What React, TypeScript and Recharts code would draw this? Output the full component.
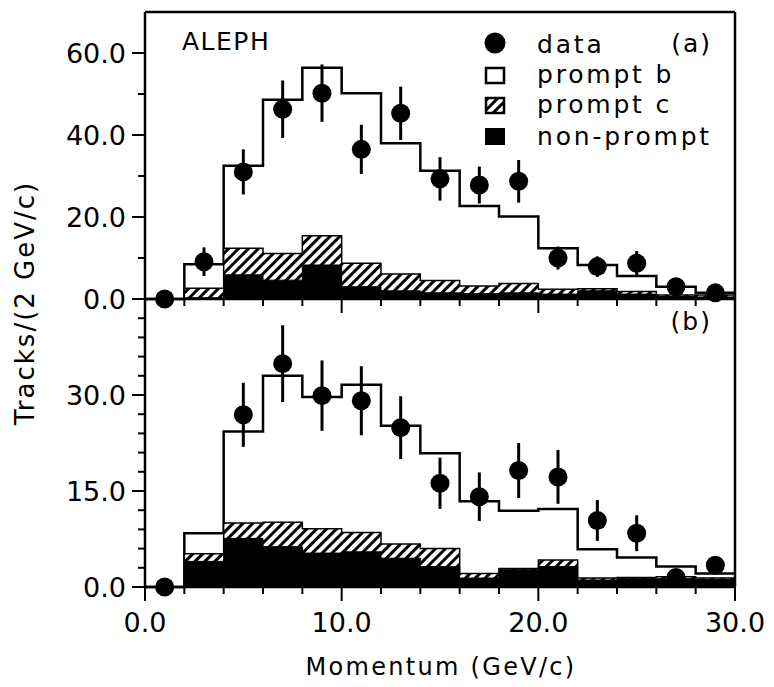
import { ComposedChart, Area, Scatter, ErrorBar, XAxis, YAxis, ReferenceLine } from "recharts";

const FONT = "'DejaVu Sans', sans-serif";

// momentum bins (GeV/c), 2 GeV wide
const binEdges = [0, 2, 4, 6, 8, 10, 12, 14, 16, 18, 20, 22, 24, 26, 28, 30];

// panel (a): simulated components per bin
const nonPromptA = [0, 0.3, 5.9, 4.6, 8.3, 3.0, 2.0, 1.5, 1.3, 1.5, 1.2, 2.0, 1.2, 0.6, 0.5];
const promptCA = [0, 2.3, 6.5, 6.5, 7.1, 5.7, 4.1, 3.0, 1.9, 2.3, 1.2, 0.5, 0.6, 0.4, 0.5];
const promptBA = [0, 5.9, 20.1, 37.5, 41.0, 41.5, 31.9, 26.8, 19.5, 16.3, 10.0, 5.8, 3.8, 2.0, 0.5];

// panel (a): measured tracks
const dataXA = [1, 3, 5, 7, 9, 11, 13, 15, 17, 19, 21, 23, 25, 27, 29];
const dataYA = [0, 9.1, 31.0, 46.3, 50.2, 36.5, 45.3, 29.3, 27.8, 28.7, 10.0, 7.9, 8.7, 3.0, 1.5];
const dataErrA = [0, 3.5, 5.5, 7.0, 7.0, 6.0, 6.5, 5.3, 4.5, 5.2, 2.8, 2.5, 3.0, 1.5, 1.0];

// panel (b): simulated components per bin
const nonPromptB = [0, 4.0, 7.6, 6.3, 5.3, 5.5, 4.5, 3.2, 1.4, 2.7, 3.2, 1.1, 1.3, 1.3, 1.2];
const promptCB = [0, 1.2, 2.4, 3.8, 3.8, 3.0, 2.2, 2.8, 0.7, 0.2, 1.0, 0.3, 0.2, 0.3, 0.2];
const promptBB = [0, 3.2, 14.3, 22.9, 20.6, 23.1, 18.5, 14.9, 11.3, 9.0, 8.0, 4.5, 3.1, 1.6, 0.7];

// panel (b): measured tracks
const dataXB = [1, 5, 7, 9, 11, 13, 15, 17, 19, 21, 23, 25, 27, 29];
const dataYB = [0, 26.9, 34.9, 29.9, 29.1, 24.9, 16.2, 14.1, 18.2, 17.2, 10.4, 8.4, 1.5, 3.4];
const dataErrB = [0, 5.0, 6.0, 5.5, 5.4, 4.9, 4.0, 3.8, 4.3, 4.2, 3.2, 2.8, 0.8, 1.0];

const xTicks = binEdges;
const yTicksA = [0, 10, 20, 30, 40, 50, 60];
const yTicksB = [0, 3, 6, 9, 12, 15, 18, 21, 24, 27, 30, 33, 36, 39, 42];

// cumulative step rows: one per bin edge, last edge repeats the last bin
function stepRows(np: number[], pc: number[], pb: number[]) {
  return binEdges.map((x, i) => {
    const k = Math.min(i, np.length - 1);
    const black = np[k];
    const hatch = black + pc[k];
    return { x, black, hatch, total: hatch + pb[k] };
  });
}

function points(xs: number[], ys: number[], errs: number[]) {
  return xs.map((x, i) => ({ x, y: ys[i], err: errs[i] }));
}

const stepsA = stepRows(nonPromptA, promptCA, promptBA);
const stepsB = stepRows(nonPromptB, promptCB, promptBB);
const pointsA = points(dataXA, dataYA, dataErrA);
const pointsB = points(dataXB, dataYB, dataErrB);

function XTick(props: any) {
  const { x, y, payload, showLabel } = props;
  const major = payload.value % 10 === 0;
  return (
    <g>
      <line x1={x} x2={x} y1={y} y2={y + (major ? 14 : 7)} stroke="#000" strokeWidth={2} />
      {showLabel && major && (
        <text x={x} y={y + 45} textAnchor="middle" fontSize={27} fontFamily={FONT} fill="#000">
          {payload.value.toFixed(1)}
        </text>
      )}
    </g>
  );
}

function YTick(props: any) {
  const { x, y, payload, step } = props;
  const major = payload.value % step === 0;
  return (
    <g>
      <line x1={x - (major ? 13 : 7)} x2={x} y1={y} y2={y} stroke="#000" strokeWidth={2} />
      {major && (
        <text x={x - 19} y={y} dy="0.36em" textAnchor="end" fontSize={27} fontFamily={FONT} fill="#000">
          {payload.value.toFixed(1)}
        </text>
      )}
    </g>
  );
}

function Hatch({ id }: { id: string }) {
  return (
    <defs>
      <pattern id={id} width="7" height="7" patternUnits="userSpaceOnUse" patternTransform="rotate(45)">
        <rect width="7" height="7" fill="#fff" />
        <line x1="1.5" y1="0" x2="1.5" y2="7" stroke="#000" strokeWidth="3" />
      </pattern>
    </defs>
  );
}

const dot = (p: any) => <circle cx={p.cx} cy={p.cy} r={9.5} fill="#000" />;

const axisLine = { stroke: "#000", strokeWidth: 2.5 };
const txt = { fontFamily: FONT, fill: "#000" };

export default function App() {
  return (
    <div style={{ position: "absolute", left: 0, top: 0, width: 774, height: 687, background: "#fff" }}>
      <div style={{ position: "absolute", left: 0, top: 0 }}>
        <ComposedChart width={774} height={687} margin={{ top: 12, right: 39, bottom: 0, left: 0 }}>
          <Hatch id="hatchA" />
          <XAxis
            dataKey="x"
            type="number"
            domain={[0, 30]}
            ticks={xTicks}
            interval={0}
            height={388}
            tickSize={0}
            tickMargin={0}
            tickLine={false}
            axisLine={axisLine}
            tick={(p: any) => <XTick {...p} showLabel={false} />}
          />
          <YAxis
            type="number"
            domain={[0, 70]}
            ticks={yTicksA}
            interval={0}
            width={145}
            tickSize={0}
            tickMargin={0}
            tickLine={false}
            axisLine={axisLine}
            tick={(p: any) => <YTick {...p} step={20} />}
          />
          <Area data={stepsA} type="stepAfter" dataKey="total" stroke="#000" strokeWidth={2.5} fill="#fff" fillOpacity={1} dot={false} activeDot={false} isAnimationActive={false} />
          <Area data={stepsA} type="stepAfter" dataKey="hatch" stroke="#000" strokeWidth={1.5} fill="url(#hatchA)" fillOpacity={1} dot={false} activeDot={false} isAnimationActive={false} />
          <Area data={stepsA} type="stepAfter" dataKey="black" stroke="#000" strokeWidth={1} fill="#000" fillOpacity={1} dot={false} activeDot={false} isAnimationActive={false} />
          <ReferenceLine y={70} stroke="#000" strokeWidth={2.5} />
          <ReferenceLine x={30} stroke="#000" strokeWidth={2.5} />
          <Scatter data={pointsA} dataKey="y" shape={dot} isAnimationActive={false}>
            <ErrorBar dataKey="err" direction="y" width={0} stroke="#000" strokeWidth={3} />
          </Scatter>
          <text x={182} y={50} fontSize={25} letterSpacing={1.5} {...txt}>ALEPH</text>
          <text x={712} y={52} fontSize={25} letterSpacing={2} textAnchor="end" {...txt}>(a)</text>
          <g>
            <circle cx={495} cy={43} r={10.5} fill="#000" />
            <text x={537} y={53} fontSize={25} letterSpacing={2.8} {...txt}>data</text>
            <rect x={486} y={68} width={18} height={15} fill="#fff" stroke="#000" strokeWidth={2.5} />
            <text x={537} y={83} fontSize={25} letterSpacing={2.8} {...txt}>prompt b</text>
            <rect x={486} y={98} width={18} height={15} fill="url(#hatchA)" stroke="#000" strokeWidth={2.5} />
            <text x={537} y={113} fontSize={25} letterSpacing={2.8} {...txt}>prompt c</text>
            <rect x={485} y={128} width={20} height={17} fill="#000" />
            <text x={537} y={145} fontSize={25} letterSpacing={2.8} {...txt}>non-prompt</text>
          </g>
          <text x={25} y={303} transform="rotate(-90 25 303)" textAnchor="middle" dominantBaseline="central" fontSize={26} letterSpacing={2} {...txt}>
            Tracks/(2 GeV/c)
          </text>
        </ComposedChart>
      </div>
      <div style={{ position: "absolute", left: 0, top: 299 }}>
        <ComposedChart width={774} height={388} margin={{ top: 0, right: 39, bottom: 0, left: 0 }}>
          <Hatch id="hatchB" />
          <XAxis
            dataKey="x"
            type="number"
            domain={[0, 30]}
            ticks={xTicks}
            interval={0}
            height={100}
            tickSize={0}
            tickMargin={0}
            tickLine={false}
            axisLine={axisLine}
            tick={(p: any) => <XTick {...p} showLabel={true} />}
          />
          <YAxis
            type="number"
            domain={[0, 45]}
            ticks={yTicksB}
            interval={0}
            width={145}
            tickSize={0}
            tickMargin={0}
            tickLine={false}
            axisLine={axisLine}
            tick={(p: any) => <YTick {...p} step={15} />}
          />
          <Area data={stepsB} type="stepAfter" dataKey="total" stroke="#000" strokeWidth={2.5} fill="#fff" fillOpacity={1} dot={false} activeDot={false} isAnimationActive={false} />
          <Area data={stepsB} type="stepAfter" dataKey="hatch" stroke="#000" strokeWidth={1.5} fill="url(#hatchB)" fillOpacity={1} dot={false} activeDot={false} isAnimationActive={false} />
          <Area data={stepsB} type="stepAfter" dataKey="black" stroke="#000" strokeWidth={1} fill="#000" fillOpacity={1} dot={false} activeDot={false} isAnimationActive={false} />
          <ReferenceLine x={30} stroke="#000" strokeWidth={2.5} />
          <Scatter data={pointsB} dataKey="y" shape={dot} isAnimationActive={false}>
            <ErrorBar dataKey="err" direction="y" width={0} stroke="#000" strokeWidth={3} />
          </Scatter>
          <text x={712} y={31} fontSize={25} letterSpacing={2} textAnchor="end" {...txt}>(b)</text>
          <text x={441} y={376} textAnchor="middle" fontSize={24} letterSpacing={2.3} {...txt}>
            Momentum (GeV/c)
          </text>
        </ComposedChart>
      </div>
    </div>
  );
}
